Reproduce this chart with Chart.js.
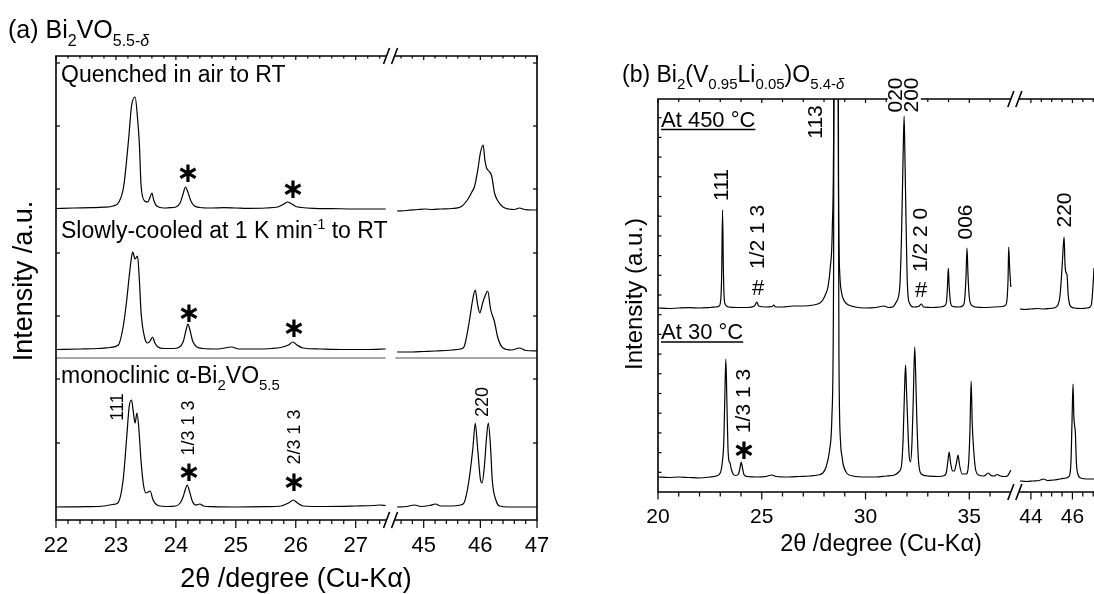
<!DOCTYPE html>
<html>
<head>
<meta charset="utf-8">
<script src="https://cdn.jsdelivr.net/npm/chart.js@4.4.1/dist/chart.umd.min.js"></script>
<style>
  html, body { margin:0; padding:0; background:#fff; overflow:hidden; }
  body { width:1094px; height:594px; position:relative; }
  canvas { position:absolute; top:0; }
  #chartA { left:0; }
  #chartB { left:560px; }
</style>
</head>
<body>
<canvas id="chartA" width="560" height="594"></canvas>
<canvas id="chartB" width="534" height="594"></canvas>
<script>
// ---- (a) Bi2VO5.5-d : [2theta, intensity above own baseline] ----
const quenchedLeft = [[22.0,-0.5],[22.3,0],[22.6,0.3],[22.8,0.8],[22.95,2],[23.05,6],[23.13,22],[23.21,68],[23.26,102],[23.32,111],[23.36,90],[23.39,65],[23.42,22],[23.48,7],[23.53,6],[23.57,11],[23.6,15],[23.63,8],[23.68,2],[23.8,0],[23.9,0.3],[24.0,1],[24.07,5],[24.12,14],[24.16,21],[24.2,16],[24.25,7],[24.31,2],[24.4,0.5],[24.6,0],[24.8,0.3],[25.0,0],[25.2,-0.3],[25.5,0],[25.7,1],[25.8,4],[25.86,6],[25.92,4.5],[26.0,1.5],[26.1,0.5],[26.3,-0.3],[26.6,-0.6],[27.0,-1],[27.3,-1],[27.5,-1]];
const quenchedRight = [[44.53,-3],[44.7,-2.5],[44.9,-1.5],[45.02,-1],[45.15,-1.5],[45.3,-1],[45.5,-0.5],[45.65,1],[45.77,8],[45.85,16],[45.9,22],[45.96,40],[46.0,55],[46.05,63],[46.08,48],[46.11,40],[46.15,37],[46.2,32],[46.25,15],[46.31,7],[46.4,1],[46.5,-1],[46.6,-1.5],[46.69,0],[46.78,-1.5],[46.9,-2],[47.0,-2]];
const slowLeft = [[22.0,-0.5],[22.4,0],[22.7,0.5],[22.9,1.5],[23.04,4],[23.12,22],[23.18,49],[23.22,72],[23.26,92],[23.28,97],[23.32,90],[23.36,93],[23.39,70],[23.42,36],[23.48,11],[23.53,6],[23.57,8],[23.61,12],[23.65,6],[23.7,2],[23.8,0.5],[23.95,0.5],[24.05,1.5],[24.12,7],[24.17,19],[24.2,25],[24.23,20],[24.28,8],[24.35,2],[24.45,0.5],[24.7,0],[24.93,2],[25.05,0],[25.3,0],[25.6,0.5],[25.75,1.5],[25.88,4],[25.95,7],[26.02,4],[26.12,1],[26.4,0],[26.8,-0.5],[27.2,-0.5],[27.5,0]];
const slowRight = [[44.53,-3],[44.8,-3],[45.0,-2.5],[45.2,-2],[45.5,-1],[45.65,0],[45.71,2],[45.8,26],[45.87,51],[45.91,59],[45.95,45],[45.99,36],[46.04,46],[46.09,54],[46.13,58],[46.18,40],[46.25,27],[46.31,11],[46.4,1],[46.55,-1],[46.69,1],[46.8,-1.5],[47.0,-2]];
const monoLeft = [[22.0,0],[22.5,0.3],[22.8,1],[22.95,2.5],[23.03,4],[23.12,27],[23.18,70],[23.22,100],[23.26,107],[23.29,95],[23.32,84],[23.35,94],[23.38,80],[23.42,45],[23.46,22],[23.5,14],[23.54,15],[23.57,16],[23.62,7],[23.7,1.5],[23.85,0.5],[24.0,1],[24.07,4],[24.12,10],[24.16,18],[24.19,22],[24.23,15],[24.28,5],[24.34,2],[24.4,3],[24.46,1],[24.6,0.3],[25.0,0],[25.5,0.3],[25.75,1],[25.88,4],[25.96,7],[26.03,4],[26.12,1],[26.5,0.5],[27.0,1],[27.3,1.5],[27.4,2],[27.5,1.5]];
const monoRight = [[44.53,0],[44.7,0.5],[44.84,2],[44.95,0.5],[45.1,1.5],[45.21,3],[45.3,1],[45.5,1],[45.65,2],[45.71,4],[45.8,27],[45.87,60],[45.91,84],[45.95,60],[46.0,28],[46.03,24],[46.07,40],[46.11,70],[46.14,84],[46.18,60],[46.21,27],[46.28,6],[46.34,1],[46.5,0],[46.8,0],[47.0,0]];
const offsetsA = { quenched: 312, slow: 171, mono: 13 };
const sepA = 162;

// ---- (b) Bi2(V0.95Li0.05)O5.4-d ----
const hotLeft = [[20.0,0],[20.5,-0.5],[21.0,0],[21.5,0.3],[22.0,0],[22.5,0.5],[22.8,1],[22.95,2],[23.03,10],[23.07,35],[23.11,98],[23.15,40],[23.19,10],[23.26,3],[23.4,1],[23.8,0.5],[24.3,0.5],[24.65,2],[24.76,6],[24.85,2],[25.2,1],[25.5,1.5],[25.58,3],[25.66,1],[26.0,1],[26.5,2],[27.0,2],[27.5,3],[27.8,5],[27.94,8],[28.1,15],[28.19,21],[28.3,40],[28.4,80],[28.47,200],[28.52,600],[28.58,620],[28.66,580],[28.7,120],[28.76,34],[28.84,16],[28.93,9],[29.05,5],[29.18,3],[29.5,1],[30.0,0],[30.5,0.5],[30.9,2],[31.1,0.5],[31.3,1],[31.48,6],[31.65,21],[31.73,68],[31.81,151],[31.86,192],[31.9,150],[31.95,90],[32.0,35],[32.05,12],[32.14,4],[32.3,1],[32.55,1.5],[32.69,4],[32.8,1],[33.2,0.5],[33.6,1],[33.8,2],[33.9,6],[33.95,22],[33.99,40],[34.03,22],[34.1,5],[34.2,1.5],[34.5,1],[34.7,2.5],[34.77,7],[34.84,30],[34.89,60],[34.94,32],[35.0,11],[35.1,3],[35.3,1],[35.7,0.5],[36.2,1],[36.6,1.5],[36.75,3],[36.82,9],[36.87,30],[36.9,61],[36.94,42],[37.0,21]];
const hotRight = [[43.47,-1],[43.7,-1.5],[44.0,-1],[44.3,-0.5],[44.6,-1],[44.9,-0.5],[45.1,0],[45.3,3],[45.4,12],[45.5,40],[45.56,62],[45.6,71],[45.64,45],[45.68,36],[45.74,33],[45.8,12],[45.86,4],[45.95,1],[46.1,0],[46.4,-0.5],[46.7,0],[46.85,1],[46.92,4],[46.97,15],[47.04,40]];
const rtLeft = [[20.0,0],[20.5,-0.5],[21.0,0],[21.5,-0.5],[22.0,-1],[22.5,0],[22.8,1],[23.0,4],[23.1,15],[23.17,35],[23.22,80],[23.27,118],[23.32,75],[23.37,30],[23.42,16],[23.47,14],[23.53,8],[23.62,3],[23.75,1.5],[23.88,3],[23.95,9],[24.01,15],[24.07,9],[24.15,2],[24.3,0.5],[24.8,0],[25.2,0.5],[25.47,2],[25.7,0.5],[26.3,0],[26.8,0.5],[27.3,1],[27.7,2],[27.94,4],[28.1,10],[28.27,27],[28.38,60],[28.46,200],[28.5,600],[28.6,620],[28.66,560],[28.72,120],[28.8,34],[28.87,20],[28.93,12],[29.09,4],[29.4,1],[30.0,0],[30.5,0],[31.0,1],[31.4,2],[31.6,5],[31.73,11],[31.81,37],[31.89,94],[31.93,112],[31.97,90],[32.03,55],[32.1,22],[32.17,15],[32.24,35],[32.3,77],[32.37,130],[32.42,100],[32.47,60],[32.55,17],[32.69,3],[33.0,1],[33.5,0.5],[33.8,1.5],[33.9,5],[33.97,16],[34.03,25],[34.1,14],[34.2,6],[34.28,6],[34.38,14],[34.46,22],[34.53,12],[34.66,3],[34.85,3],[34.96,12],[35.03,45],[35.09,96],[35.14,55],[35.22,25],[35.3,8],[35.45,2],[35.7,1],[35.93,4],[36.05,1.5],[36.2,1],[36.34,2.5],[36.5,1],[36.7,0.5],[36.84,1],[36.93,4],[37.0,7]];
const rtRight = [[43.47,-4],[43.8,-4.5],[44.1,-4],[44.4,-3.5],[44.6,-2],[44.8,-3.5],[45.1,-3],[45.4,-2],[45.7,-1],[45.85,1],[45.93,15],[45.98,55],[46.03,93],[46.07,60],[46.1,52],[46.14,45],[46.19,15],[46.26,3],[46.4,-1],[46.7,-2],[47.04,-2]];
const offsetsB = { hot: 184, rt: 15 };

// axis ticks
const majorA = [22, 23, 24, 25, 26, 27, 45, 46, 47];
const minorA = [];
for (let i = 111; i <= 137; i++) if (i % 5) minorA.push(i / 5);
for (let i = 223; i <= 234; i++) if (i % 5) minorA.push(i / 5);
const yTicksA = [77, 141, 204, 267, 331, 394, 457];
const majorB = [20, 25, 30, 35, 44, 46];
const minorB = [21, 22, 23, 24, 26, 27, 28, 29, 31, 32, 33, 34, 36, 44.5, 45, 45.5, 46.5, 47];
const yTicksB = [];
for (let k = 1; k <= 19; k++) yTicksB.push(k * 19.7);

// broken axes: squeeze the high-angle part next to the low-angle part
const breakA = { from: 27.5, to: 44.5, gap: 0.162, squeeze: 0.945 };
const breakB = { from: 37, to: 43.42, gap: 0.39, squeeze: 1 };
const uA = v => v <= breakA.from ? v : breakA.from + breakA.gap + (v - breakA.to) * breakA.squeeze;
const uB = v => v <= breakB.from ? v : breakB.from + breakB.gap + (v - breakB.to) * breakB.squeeze;

const FONT = '"Liberation Sans", Arial, Helvetica, sans-serif';

const mk = (pts, off, map) => ({
  data: pts.map(([x, y]) => ({ x: map(x), y: y + off })),
  borderColor: '#000', borderWidth: 1.2, pointRadius: 0, fill: false,
  cubicInterpolationMode: 'monotone', clip: 0
});

// helpers
const line = (ctx, x1, y1, x2, y2) => { ctx.beginPath(); ctx.moveTo(x1, y1); ctx.lineTo(x2, y2); ctx.stroke(); };

function rich(ctx, x, y, parts, size, small) {
  let cx = x;
  ctx.textAlign = 'left'; ctx.textBaseline = 'alphabetic';
  parts.forEach(p => {
    ctx.font = `${p.it ? 'italic ' : ''}${p.s ? small : size}px ${FONT}`;
    const dy = p.s === 'sub' ? size * 0.3 : p.s === 'sup' ? -size * 0.4 : 0;
    ctx.fillText(p.t, cx, y + dy);
    cx += ctx.measureText(p.t).width;
  });
  return cx;
}

function vText(ctx, t, x, y, size, bg) {
  ctx.save();
  ctx.translate(x, y); ctx.rotate(-Math.PI / 2);
  ctx.font = `${size}px ${FONT}`; ctx.textAlign = 'center'; ctx.textBaseline = 'middle';
  if (bg) {
    const w = ctx.measureText(t).width;
    ctx.fillStyle = '#fff'; ctx.fillRect(-w / 2 - 1, -size * 0.42, w + 2, size * 0.84); ctx.fillStyle = '#000';
  }
  ctx.fillText(t, 0, 0);
  ctx.restore();
}

function star(ctx, x, y, size) {
  ctx.font = `bold ${size}px "DejaVu Sans", sans-serif`;
  ctx.textAlign = 'center'; ctx.textBaseline = 'alphabetic';
  const m = ctx.measureText('\u2217');
  ctx.fillText('\u2217', x, y + (m.actualBoundingBoxAscent - m.actualBoundingBoxDescent) / 2);
}

function brokenFrame(ctx, a, bc, closeRight) {
  ctx.beginPath();
  ctx.moveTo(bc - 4, a.top); ctx.lineTo(a.left, a.top); ctx.lineTo(a.left, a.bottom); ctx.lineTo(bc - 4, a.bottom);
  ctx.moveTo(bc + 4, a.top); ctx.lineTo(a.right, a.top);
  if (closeRight) ctx.lineTo(a.right, a.bottom); else ctx.moveTo(a.right, a.bottom);
  ctx.lineTo(bc + 4, a.bottom);
  ctx.stroke();
  [a.top, a.bottom].forEach(yy => {
    [-4, 4].forEach(dx => line(ctx, bc + dx - 3, yy + 8, bc + dx + 3, yy - 8));
  });
}

const panelA = {
  id: 'panelA',
  afterDraw(chart) {
    const { ctx, chartArea: a, scales: { x, y } } = chart;
    const px = v => x.getPixelForValue(uA(v));
    const py = v => y.getPixelForValue(v);
    const bl = px(breakA.from), br = px(breakA.to), bc = (bl + br) / 2;
    ctx.save();
    ctx.lineCap = 'butt';
    // grey separator between the heated and reference pattern
    ctx.strokeStyle = '#a8a8a8'; ctx.lineWidth = 2;
    line(ctx, a.left, py(sepA), bl, py(sepA));
    line(ctx, br, py(sepA), a.right, py(sepA));
    // frame
    ctx.strokeStyle = '#000'; ctx.fillStyle = '#000'; ctx.lineWidth = 1.6;
    brokenFrame(ctx, a, bc, true);
    ctx.lineWidth = 1.2;
    majorA.forEach(v => { line(ctx, px(v), a.bottom, px(v), a.bottom + 8); line(ctx, px(v), a.top, px(v), a.top + 4); });
    minorA.forEach(v => { line(ctx, px(v), a.bottom, px(v), a.bottom + 4); line(ctx, px(v), a.top, px(v), a.top + 2.5); });
    yTicksA.forEach(v => { line(ctx, a.left, py(v), a.left + 4, py(v)); line(ctx, a.right, py(v), a.right - 4, py(v)); });
    // tick labels
    ctx.font = `22px ${FONT}`; ctx.textAlign = 'center'; ctx.textBaseline = 'middle';
    majorA.forEach(v => ctx.fillText(String(v), px(v), 546));
    // titles
    ctx.font = `27px ${FONT}`;
    ctx.fillText('2\u03b8 /degree (Cu-K\u03b1)', 296, 580);
    vText(ctx, 'Intensity /a.u.', 25, 281, 27);
    rich(ctx, 8, 38, [{ t: '(a) Bi' }, { t: '2', s: 'sub' }, { t: 'VO' }, { t: '5.5-', s: 'sub' }, { t: '\u03b4', s: 'sub', it: true }], 25, 16);
    rich(ctx, 61, 82, [{ t: 'Quenched in air to RT' }], 23, 15);
    rich(ctx, 61, 238, [{ t: 'Slowly-cooled at 1 K min' }, { t: '-1', s: 'sup' }, { t: ' to RT' }], 23, 14);
    rich(ctx, 61, 383, [{ t: 'monoclinic \u03b1-Bi' }, { t: '2', s: 'sub' }, { t: 'VO' }, { t: '5.5', s: 'sub' }], 23, 15);
    // reflections
    vText(ctx, '111', 118, 407, 18);
    vText(ctx, '1/3 1 3', 189, 428, 18);
    vText(ctx, '2/3 1 3', 295, 437, 18);
    vText(ctx, '220', 483, 402, 18);
    [[188, 173], [293, 189], [189, 313], [294, 328], [189, 472], [294, 482]].forEach(([sx, sy]) => star(ctx, sx, sy, 28));
    ctx.restore();
  }
};

const panelB = {
  id: 'panelB',
  afterDraw(chart) {
    const { ctx, chartArea: a, scales: { x, y } } = chart;
    const px = v => x.getPixelForValue(uB(v));
    const py = v => y.getPixelForValue(v);
    const bc = (px(breakB.from) + px(breakB.to)) / 2;
    ctx.save();
    ctx.strokeStyle = '#000'; ctx.fillStyle = '#000'; ctx.lineWidth = 1.6;
    brokenFrame(ctx, a, bc, false);
    ctx.lineWidth = 1.2;
    majorB.forEach(v => { line(ctx, px(v), a.bottom, px(v), a.bottom + 7.5); line(ctx, px(v), a.top, px(v), a.top + 4); });
    minorB.forEach(v => { line(ctx, px(v), a.bottom, px(v), a.bottom + 4.5); line(ctx, px(v), a.top, px(v), a.top + 3); });
    yTicksB.forEach(v => line(ctx, a.left, py(v), a.left + 3.5, py(v)));
    ctx.font = `21px ${FONT}`; ctx.textAlign = 'center'; ctx.textBaseline = 'middle';
    majorB.forEach(v => ctx.fillText(String(v), px(v), 517));
    // absolute page coordinates from here on
    ctx.translate(-560, 0);
    ctx.font = `23.5px ${FONT}`; ctx.textAlign = 'center'; ctx.textBaseline = 'middle';
    ctx.fillText('2\u03b8 /degree (Cu-K\u03b1)', 881, 545);
    vText(ctx, 'Intensity (a.u.)', 635, 294, 24);
    rich(ctx, 622, 82, [{ t: '(b) Bi' }, { t: '2', s: 'sub' }, { t: '(V' }, { t: '0.95', s: 'sub' }, { t: 'Li' }, { t: '0.05', s: 'sub' }, { t: ')O' }, { t: '5.4-', s: 'sub' }, { t: '\u03b4', s: 'sub', it: true }], 23, 15);
    let e = rich(ctx, 661, 126.5, [{ t: 'At 450 \u00b0C' }], 22, 14);
    ctx.lineWidth = 1.5; line(ctx, 661, 129.5, e, 129.5);
    e = rich(ctx, 661, 339, [{ t: 'At 30 \u00b0C' }], 22, 14);
    line(ctx, 661, 342, e, 342);
    vText(ctx, '113', 816, 122, 21);
    vText(ctx, '020', 896.5, 95, 21, true);
    vText(ctx, '200', 912, 95, 21, true);
    vText(ctx, '111', 722, 185, 21);
    vText(ctx, '1/2 1 3', 758, 237, 21);
    vText(ctx, '1/2 2 0', 921, 240, 21);
    vText(ctx, '006', 966.5, 222, 21);
    vText(ctx, '220', 1065.5, 210, 21);
    vText(ctx, '1/3 1 3', 744, 401, 21);
    ctx.font = `22px ${FONT}`; ctx.textAlign = 'center'; ctx.textBaseline = 'middle';
    ctx.fillText('#', 758, 289);
    ctx.fillText('#', 921, 291);
    star(ctx, 744, 450, 28);
    ctx.restore();
  }
};

const baseOpts = (pad, xmin, xmax, ymax) => ({
  responsive: false, animation: false, devicePixelRatio: 1,
  layout: { padding: pad },
  plugins: { legend: { display: false }, tooltip: { enabled: false } },
  scales: {
    x: { type: 'linear', display: false, min: xmin, max: xmax },
    y: { type: 'linear', display: false, min: 0, max: ymax }
  }
});

new Chart(document.getElementById('chartA'), {
  type: 'line',
  data: { datasets: [
    mk(quenchedLeft, offsetsA.quenched, uA), mk(quenchedRight, offsetsA.quenched, uA),
    mk(slowLeft, offsetsA.slow, uA), mk(slowRight, offsetsA.slow, uA),
    mk(monoLeft, offsetsA.mono, uA), mk(monoRight, offsetsA.mono, uA)
  ] },
  options: baseOpts({ left: 56, right: 23, top: 56, bottom: 74 }, 22, uA(47), 464),
  plugins: [panelA]
});

new Chart(document.getElementById('chartB'), {
  type: 'line',
  data: { datasets: [
    mk(hotLeft, offsetsB.hot, uB), mk(hotRight, offsetsB.hot, uB),
    mk(rtLeft, offsetsB.rt, uB), mk(rtRight, offsetsB.rt, uB)
  ] },
  options: baseOpts({ left: 98, right: 0, top: 99, bottom: 102 }, 20, 41.01, 393),
  plugins: [panelB]
});
</script>
</body>
</html>
